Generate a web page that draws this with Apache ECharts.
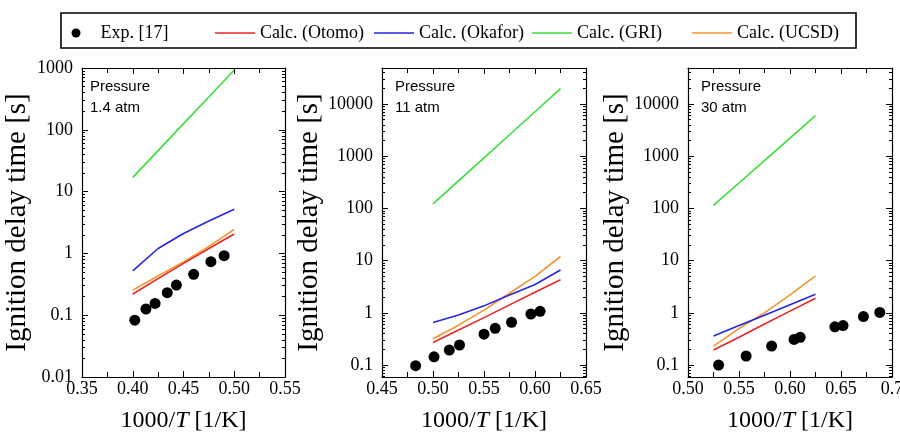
<!DOCTYPE html>
<html>
<head>
<meta charset="utf-8">
<script src="https://cdn.jsdelivr.net/npm/echarts@6/dist/echarts.min.js"></script>
<style>
html,body{margin:0;padding:0;background:#fff;}
#chart{width:900px;height:437px;}
</style>
</head>
<body>
<div id="chart"></div>
<script>
// ---------- data ----------
const seriesNames = ['Exp. [17]', 'Calc. (Otomo)', 'Calc. (Okafor)', 'Calc. (GRI)', 'Calc. (UCSD)'];
const pressureLabels = ['Pressure\n1.4 atm', 'Pressure\n11 atm', 'Pressure\n30 atm'];

// Panel 1: 1.4 atm
const exp1X = [0.402, 0.413, 0.422, 0.434, 0.443, 0.460, 0.477, 0.490];
const exp1Y = [0.083, 0.126, 0.155, 0.231, 0.307, 0.458, 0.734, 0.92];
const calc1X = [0.40, 0.425, 0.45, 0.475, 0.50];
const otomo1 = [0.22, 0.39, 0.69, 1.2, 2.06];
const okafor1 = [0.52, 1.2, 2.1, 3.35, 5.2];
const gri1 = [17, 46, 126, 340, 930];
const ucsd1 = [0.255, 0.43, 0.73, 1.3, 2.45];

// Panel 2: 11 atm
const exp2X = [0.483, 0.501, 0.516, 0.526, 0.550, 0.561, 0.577, 0.596, 0.605];
const exp2Y = [0.097, 0.144, 0.194, 0.242, 0.39, 0.506, 0.66, 0.95, 1.07];
const calc2X = [0.50, 0.525, 0.55, 0.575, 0.60, 0.625];
const otomo2 = [0.27, 0.47, 0.81, 1.42, 2.47, 4.3];
const okafor2 = [0.65, 0.91, 1.36, 2.2, 3.5, 6.6];
const gri2 = [122, 337, 931, 2580, 7120, 19700];
const ucsd2 = [0.32, 0.58, 1.13, 2.37, 5.0, 12];

// Panel 3: 30 atm
const exp3X = [0.530, 0.557, 0.582, 0.604, 0.610, 0.644, 0.652, 0.672, 0.688];
const exp3Y = [0.10, 0.149, 0.231, 0.31, 0.34, 0.54, 0.57, 0.85, 1.02];
const calc3X = [0.525, 0.55, 0.575, 0.60, 0.625];
const otomo3 = [0.194, 0.34, 0.61, 1.08, 1.9];
const okafor3 = [0.36, 0.57, 0.90, 1.43, 2.27];
const gri3 = [114, 307, 826, 2220, 5970];
const ucsd3 = [0.23, 0.50, 1.0, 2.2, 5.1];

// axis ranges and tick labels
const xRanges = [[0.35, 0.55], [0.45, 0.65], [0.50, 0.70]];
const yRanges = [[0.01, 1000], [0.059, 49000], [0.059, 49000]];
const yTicks1 = [0.01, 0.1, 1, 10, 100, 1000];
const yTicks23 = [0.1, 1, 10, 100, 1000, 10000];

// ---------- styling ----------
const SERIF = 'Liberation Serif';
const SANS = 'Liberation Sans';
const colors = {exp: '#000000', otomo: '#ec2424', okafor: '#2626e6', gri: '#3ade3a', ucsd: '#f3952f'};
const grids = [
  {left: 82, top: 68, width: 203, height: 309},
  {left: 382, top: 68, width: 204, height: 309},
  {left: 688, top: 68, width: 204, height: 309}
];

const panels = [
  {expX: exp1X, expY: exp1Y, cx: calc1X, otomo: otomo1, okafor: okafor1, gri: gri1, ucsd: ucsd1, yTicks: yTicks1, nameGap: 50},
  {expX: exp2X, expY: exp2Y, cx: calc2X, otomo: otomo2, okafor: okafor2, gri: gri2, ucsd: ucsd2, yTicks: yTicks23, nameGap: 55},
  {expX: exp3X, expY: exp3Y, cx: calc3X, otomo: otomo3, okafor: okafor3, gri: gri3, ucsd: ucsd3, yTicks: yTicks23, nameGap: 56}
];

function pairs(xs, ys) { return xs.map((x, i) => [x, ys[i]]); }
function minorTicks(range) {
  const out = [];
  for (let e = -3; e <= 5; e++) {
    const d = Math.pow(10, e);
    for (let k = 2; k <= 9; k++) {
      const v = +(k * d).toPrecision(3);
      if (v > range[0] && v < range[1]) out.push(v);
    }
  }
  return out;
}
const fmtY = v => String(parseFloat((+v).toPrecision(3)));

const xAxes = [], yAxes = [], series = [], titles = [];
panels.forEach((p, i) => {
  const xr = xRanges[i], yr = yRanges[i];
  const fmtX = v => (i === 2 && v > 0.695) ? '0.7' : (+v).toFixed(2);
  const lineStyleAx = {color: '#000', width: 1.2};
  const xBase = {
    type: 'value', gridIndex: i, min: xr[0], max: xr[1], interval: 0.05,
    axisLine: {show: true, onZero: false, lineStyle: lineStyleAx},
    axisTick: {show: true, inside: true, length: 6, lineStyle: {color: '#000', width: 1}},
    minorTick: {show: true, splitNumber: 2, length: 5, lineStyle: {color: '#000', width: 1}},
    splitLine: {show: false}, minorSplitLine: {show: false}
  };
  xAxes.push(Object.assign({}, xBase, {
    position: 'bottom',
    axisLabel: {show: true, formatter: fmtX, color: '#000', fontFamily: SERIF, fontSize: 18, margin: 3},
    name: '1000/{i|T} [1/K]', nameLocation: 'middle', nameGap: 32,
    nameTextStyle: {color: '#000', fontFamily: SERIF, fontSize: 24,
      rich: {i: {fontStyle: 'italic', fontFamily: SERIF, fontSize: 24, color: '#000'}}}
  }));
  xAxes.push(Object.assign({}, xBase, {position: 'top', axisLabel: {show: false}}));

  const yBase = {
    type: 'log', logBase: 10, gridIndex: i, min: yr[0], max: yr[1],
    splitLine: {show: false}, minorTick: {show: false}
  };
  const minors = minorTicks(yr);
  // left main
  yAxes.push(Object.assign({}, yBase, {
    position: 'left',
    axisLine: {show: true, onZero: false, lineStyle: lineStyleAx},
    axisTick: {show: true, inside: true, length: 6, customValues: p.yTicks, lineStyle: {color: '#000', width: 1}},
    axisLabel: {show: true, customValues: p.yTicks, formatter: fmtY, color: '#000', fontFamily: SERIF, fontSize: 18, margin: 9},
    name: 'Ignition delay time [s]', nameLocation: 'middle', nameGap: p.nameGap,
    nameTextStyle: {color: '#000', fontFamily: SERIF, fontSize: 29}
  }));
  // right mirror
  yAxes.push(Object.assign({}, yBase, {
    position: 'right',
    axisLine: {show: true, onZero: false, lineStyle: lineStyleAx},
    axisTick: {show: true, inside: true, length: 6, customValues: p.yTicks, lineStyle: {color: '#000', width: 1}},
    axisLabel: {show: false}
  }));
  // minor ticks left / right
  ['left', 'right'].forEach(pos => {
    yAxes.push(Object.assign({}, yBase, {
      position: pos,
      axisLine: {show: false},
      axisTick: {show: true, inside: true, length: 3, customValues: minors, lineStyle: {color: '#000', width: 1}},
      axisLabel: {show: false}
    }));
  });

  const xi = 2 * i, yi = 4 * i;
  const mkLine = (name, data, color) => ({
    type: 'line', name, xAxisIndex: xi, yAxisIndex: yi, data: pairs(p.cx, data),
    symbol: 'none', showSymbol: false, lineStyle: {color, width: 1.6}, itemStyle: {color}, z: 2
  });
  series.push(mkLine(seriesNames[3], p.gri, colors.gri));
  series.push(mkLine(seriesNames[4], p.ucsd, colors.ucsd));
  series.push(mkLine(seriesNames[2], p.okafor, colors.okafor));
  series.push(mkLine(seriesNames[1], p.otomo, colors.otomo));
  series.push({
    type: 'scatter', name: seriesNames[0], xAxisIndex: xi, yAxisIndex: yi,
    data: pairs(p.expX, p.expY), symbol: 'circle', symbolSize: 11,
    itemStyle: {color: colors.exp, opacity: 1}, z: 3
  });

  titles.push({
    text: pressureLabels[i], left: grids[i].left + (i === 0 ? 8 : 13), top: 76, padding: 0,
    textStyle: {fontFamily: SANS, fontSize: 15, fontWeight: 'normal', color: '#000', lineHeight: 21.5}
  });
});

const legendText = {fontFamily: SERIF, fontSize: 18, color: '#000'};
const lineIcon = 'path://M0 0H40V1.6H0Z';
const legends = [
  {data: [seriesNames[0]], left: 71.5, itemWidth: 9, itemHeight: 9, icon: 'circle',
   itemStyle: {opacity: 1}, textStyle: Object.assign({padding: [0, 0, 0, 15]}, legendText)},
  {data: [seriesNames[1]], left: 215, icon: lineIcon, itemWidth: 40, itemHeight: 1.6, textStyle: legendText},
  {data: [seriesNames[2]], left: 374, icon: lineIcon, itemWidth: 40, itemHeight: 1.6, textStyle: legendText},
  {data: [seriesNames[3]], left: 532, icon: lineIcon, itemWidth: 40, itemHeight: 1.6, textStyle: legendText},
  {data: [seriesNames[4]], left: 692, icon: lineIcon, itemWidth: 40, itemHeight: 1.6, textStyle: legendText}
].map(l => Object.assign({top: 24, padding: 0, selectedMode: false}, l));

const chart = echarts.init(document.getElementById('chart'), null, {renderer: 'canvas'});
chart.setOption({
  backgroundColor: '#fff',
  animation: false,
  title: titles,
  legend: legends,
  grid: grids.map(g => Object.assign({outerBoundsMode: 'none', containLabel: false}, g)),
  xAxis: xAxes,
  yAxis: yAxes,
  series: series,
  graphic: [{
    type: 'rect', shape: {x: 61, y: 13, width: 795, height: 35},
    style: {fill: 'none', stroke: '#000', lineWidth: 1.6}, z: 10
  }]
});
</script>
</body>
</html>
